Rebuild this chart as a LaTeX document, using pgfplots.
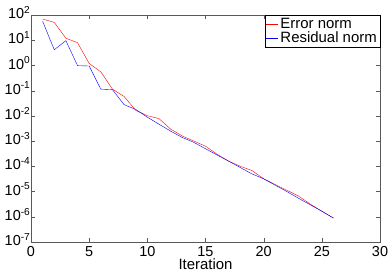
\documentclass[border=0pt]{standalone}
\usepackage{pgfplots}
\pgfplotsset{compat=1.18}
\usepackage{fontspec}
\setmainfont{Liberation Sans}
\begin{document}
\begin{tikzpicture}
\path (0bp,0bp) rectangle (390bp,275bp);
\begin{axis}[
  at={(31bp,33bp)}, anchor=south west,
  width=349bp, height=227bp, scale only axis,
  xmin=0, xmax=30, ymode=log, log basis y=10,
  ymin=1e-7, ymax=1e2,
  xtick={0,5,...,30},
  ytick={1e-7,1e-6,1e-5,1e-4,1e-3,1e-2,1e-1,1,1e1,1e2},
  yticklabel={\pgfmathtruncatemacro\e{round(\tick)}10\textsuperscript{\e}},
  /pgf/number format/assume math mode=true,
  xticklabel={\pgfmathtruncatemacro\v{round(\tick)}\v},
  tick label style={font=\fontsize{14.5}{14.5}\selectfont},
  yticklabel style={inner sep=0.5bp, yshift=2.5bp},
  xticklabel style={inner xsep=0bp, inner ysep=4bp},
  label style={font=\fontsize{15}{15}\selectfont},
  xlabel={Iteration},
  xlabel style={inner sep=0bp, yshift=1.5bp},
  axis line style={gray!70!black},
  tick style={gray!70!black},
  major tick length=4bp, minor tick length=2bp,
  tick align=inside,
  legend style={at={(1,1)}, anchor=north east, draw=black, font=\fontsize{15}{15}\selectfont, inner sep=1bp, row sep=-2bp, legend cell align=left},
  legend image code/.code={\draw[#1] plot coordinates {(0bp,0bp) (12bp,0bp)};},
]
\addplot[red, thin] coordinates {
(1,69) (2,51) (3,12) (4,8) (5,1.2) (6,0.56) (7,0.115) (8,0.059) (9,0.0166) (10,0.0102)
(11,0.0078) (12,0.003) (13,1.6e-3) (14,1.0e-3) (15,6.3e-4) (16,3.0e-4) (17,1.6e-4) (18,1.0e-4)
(19,6.8e-5) (20,3.2e-5) (21,1.9e-5) (22,1.12e-5) (23,6.6e-6) (24,3.2e-6) (25,1.66e-6) (26,8.9e-7)
};
\addlegendentry{Error norm}
\addplot[blue, thin] coordinates {
(1,56) (2,4.2) (3,9.6) (4,0.98) (5,0.95) (6,0.115) (7,0.11) (8,0.028) (9,0.018) (10,0.0089)
(11,0.0047) (12,0.0025) (13,1.4e-3) (14,8.9e-4) (15,5e-4) (16,2.8e-4) (17,1.6e-4) (18,8.9e-5)
(19,5e-5) (20,3.2e-5) (21,1.78e-5) (22,1e-5) (23,5.4e-6) (24,3e-6) (25,1.66e-6) (26,8.9e-7)
};
\addlegendentry{Residual norm}
\end{axis}
\end{tikzpicture}
\end{document}
